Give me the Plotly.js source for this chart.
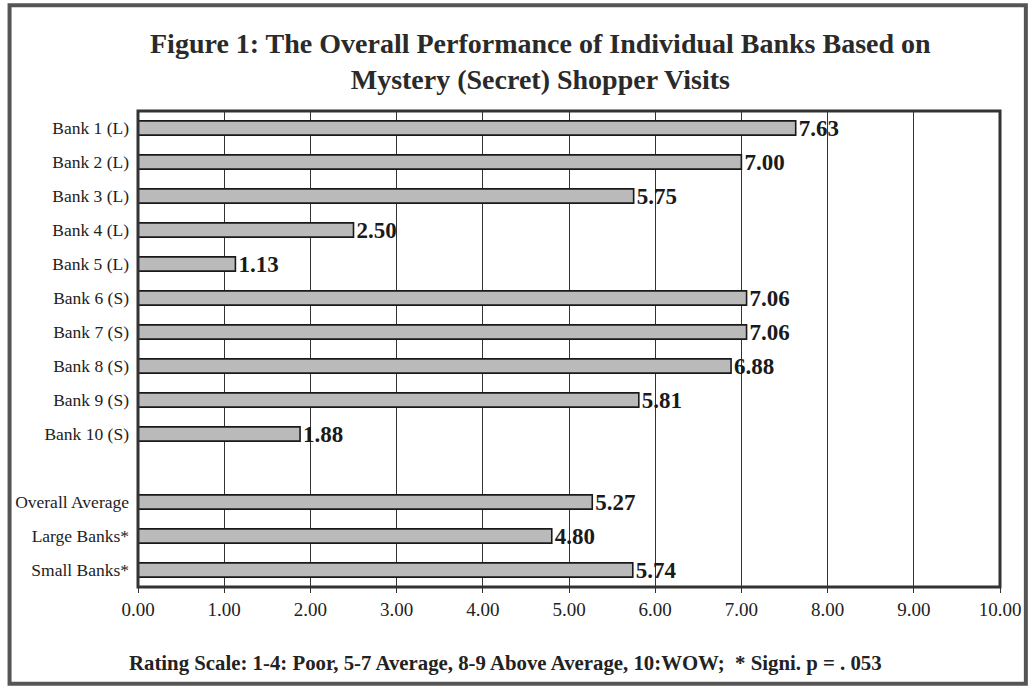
<!DOCTYPE html>
<html><head><meta charset="utf-8">
<script src="https://cdn.plot.ly/plotly-3.0.1.min.js"></script>
<style>html,body{margin:0;padding:0;background:#fff}#c{width:1028px;height:689px}</style>
</head><body><div id="c"></div>
<script>
const categories = ["Bank 1 (L)","Bank 2 (L)","Bank 3 (L)","Bank 4 (L)","Bank 5 (L)","Bank 6 (S)","Bank 7 (S)","Bank 8 (S)","Bank 9 (S)","Bank 10 (S)"," ","Overall Average","Large Banks*","Small Banks*"];
const values = [7.63,7.00,5.75,2.50,1.13,7.06,7.06,6.88,5.81,1.88,null,5.27,4.80,5.74];
const xTicks = [0,1,2,3,4,5,6,7,8,9,10];
const xTickLabels = ["0.00","1.00","2.00","3.00","4.00","5.00","6.00","7.00","8.00","9.00","10.00"];

const serif = "Liberation Serif, Times New Roman, serif";
const trace = {
  type: "bar", orientation: "h",
  x: values, y: categories,
  width: 0.42,
  marker: {color: "#bababa", line: {color: "#1a1a1a", width: 1.6}},
  text: values.map(v => v === null ? "" : v.toFixed(2)),
  textposition: "outside",
  constraintext: "none",
  textfont: {family: serif, size: 23, color: "#1a1a1a", weight: "bold"},
  cliponaxis: false,
  hoverinfo: "skip"
};
const layout = {
  width: 1028, height: 689,
  margin: {l: 138, r: 28, t: 111, b: 102},
  paper_bgcolor: "#fff", plot_bgcolor: "#fff",
  showlegend: false,
  xaxis: {
    range: [0, 10], tickvals: xTicks, ticktext: xTickLabels,
    showgrid: true, gridcolor: "#333", gridwidth: 1,
    zeroline: false, showline: false,
    ticks: "outside", ticklen: 5, tickcolor: "#333",
    tickfont: {family: serif, size: 19, color: "#222"},
    fixedrange: true
  },
  yaxis: {
    type: "category", categoryorder: "array", categoryarray: categories,
    autorange: "reversed",
    showgrid: false, zeroline: false, showline: false, ticks: "",
    ticklabelstandoff: 8,
    tickfont: {family: serif, size: 17.5, color: "#222"},
    fixedrange: true
  },
  shapes: [
    {type: "rect", xref: "paper", yref: "paper", x0: 0, x1: 1, y0: 0, y1: 1,
     line: {color: "#333", width: 3}, fillcolor: "rgba(0,0,0,0)"},
    {type: "rect", xref: "paper", yref: "paper", x0: -0.149, x1: 1.03, y0: -0.203, y1: 1.222,
     line: {color: "#555", width: 4}, fillcolor: "rgba(0,0,0,0)"}
  ],
  annotations: [
    {xref: "paper", yref: "paper", x: 0.467, y: 1.103, xanchor: "center", yanchor: "middle",
     showarrow: false,
     text: "<b>Figure 1: The Overall Performance of Individual Banks Based on<br>Mystery (Secret) Shopper Visits</b>",
     font: {family: serif, size: 28, color: "#2a2a2a"}},
    {xref: "paper", yref: "paper", x: 0.426, y: -0.16, xanchor: "center", yanchor: "middle",
     showarrow: false,
     text: "<b>Rating Scale: 1-4: Poor, 5-7 Average, 8-9 Above Average, 10:WOW;  * Signi. p = . 053</b>",
     font: {family: serif, size: 20.8, color: "#222"}}
  ]
};
Plotly.newPlot("c", [trace], layout, {staticPlot: true, displayModeBar: false});
</script></body></html>
